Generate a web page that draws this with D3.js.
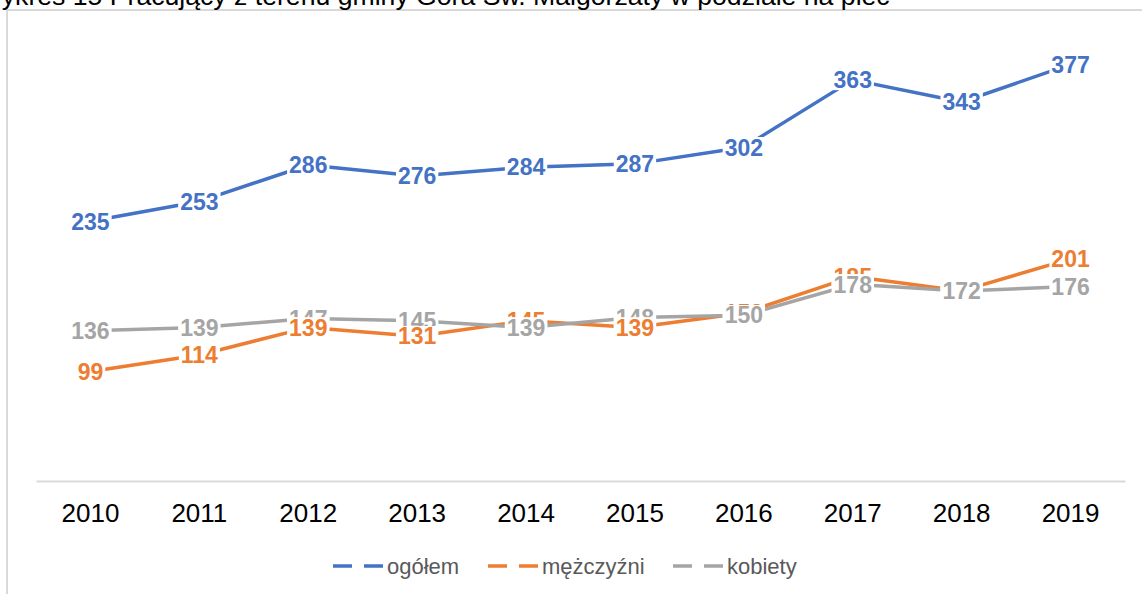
<!DOCTYPE html>
<html>
<head>
<meta charset="utf-8">
<script src="https://cdn.jsdelivr.net/npm/d3@7"></script>
<style>
  body { margin: 0; background: #fff; }
  text { font-family: "Liberation Sans", Arial, sans-serif; }
</style>
</head>
<body>
<div id="chart"></div>
<script>
// data
var years = ["2010", "2011", "2012", "2013", "2014", "2015", "2016", "2017", "2018", "2019"];
var ogolem = [235, 253, 286, 276, 284, 287, 302, 363, 343, 377];
var mezczyzni = [99, 114, 139, 131, 145, 139, 152, 185, 172, 201];
var kobiety = [136, 139, 147, 145, 139, 148, 150, 178, 172, 176];
var seriesNames = ["ogółem", "mężczyźni", "kobiety"];
var titleText = "Wykres 15 Pracujący z terenu gminy Góra Św. Małgorzaty w podziale na płeć";

var colors = ["#4472C4", "#ED7D31", "#A5A5A5"];
var series = [ogolem, mezczyzni, kobiety];

var svgWidth = 1142;
var svgHeight = 594;

var svg = d3.select("#chart")
    .append("svg")
    .attr("width", svgWidth)
    .attr("height", svgHeight);

// frame of the chart area (only top and left are visible)
svg.append("line")
    .attr("x1", 7).attr("x2", svgWidth).attr("y1", 10).attr("y2", 10)
    .attr("stroke", "#d9d9d9").attr("stroke-width", 2);
svg.append("line")
    .attr("x1", 7).attr("x2", 7).attr("y1", 10).attr("y2", svgHeight)
    .attr("stroke", "#d9d9d9").attr("stroke-width", 2);

// title, cut off at the top; sized so "ykres ... płeć" spans x 2..890
function textWidth(str, size) {
    var t = svg.append("text").attr("font-size", size).text(str);
    var w = t.node().getComputedTextLength();
    t.remove();
    return w;
}
var titleSize = 22 * 888 / (textWidth(titleText, 22) - textWidth("W", 22));
svg.append("text")
    .attr("x", 2 - textWidth("W", titleSize))
    .attr("y", 5)
    .attr("font-size", titleSize)
    .attr("fill", "#000")
    .text(titleText);

// scales
var xScale = d3.scaleBand()
    .domain(years)
    .range([36, 1125]);

var yScale = d3.scaleLinear()
    .domain([0, 400])
    .range([481, 39]);

var xPos = function(d, i) { return xScale(years[i]) + xScale.bandwidth() / 2; };

// x axis
var bottomAxis = d3.axisBottom(xScale).tickSize(0).tickPadding(0);
var axisG = svg.append("g")
    .attr("transform", "translate(0, 481)")
    .call(bottomAxis);
axisG.select(".domain").attr("stroke", "#d9d9d9").attr("stroke-width", 2);
axisG.selectAll(".tick text")
    .attr("font-size", 26)
    .attr("font-family", "Liberation Sans, Arial, sans-serif")
    .attr("fill", "#000")
    .attr("dy", null)
    .attr("y", 41);

// lines
var line = d3.line()
    .x(xPos)
    .y(function(d) { return yScale(d); });

series.forEach(function(s, k) {
    svg.append("path")
        .datum(s)
        .attr("d", line)
        .attr("fill", "none")
        .attr("stroke", colors[k])
        .attr("stroke-width", 3.5)
        .attr("stroke-linejoin", "round");
});

// data labels with white boxes, lower labels drawn on top
var labels = [];
series.forEach(function(s, k) {
    s.forEach(function(v, i) {
        labels.push({ v: v, i: i, k: k, x: xPos(v, i), y: yScale(v) });
    });
});
labels.sort(function(a, b) { return (a.y - b.y) || (a.k - b.k); });

var fs = 23;
var labelG = svg.append("g");
labels.forEach(function(d) {
    var g = labelG.append("g");
    var rect = g.append("rect").attr("fill", "#fff");
    var t = g.append("text")
        .attr("x", d.x)
        .attr("y", d.y + fs * 0.358)
        .attr("text-anchor", "middle")
        .attr("font-size", fs)
        .attr("font-weight", "bold")
        .attr("fill", colors[d.k])
        .text(d.v);
    var w = t.node().getComputedTextLength();
    var h = fs * 0.716;
    rect.attr("x", d.x - w / 2 - 2)
        .attr("y", d.y - h / 2 - 2)
        .attr("width", w + 4)
        .attr("height", h + 4);
});

// legend
var legendX = [333, 488, 673];
var legend = svg.append("g");
seriesNames.forEach(function(name, k) {
    var x0 = legendX[k];
    [[0, 19], [31, 50]].forEach(function(seg) {
        legend.append("line")
            .attr("x1", x0 + seg[0]).attr("x2", x0 + seg[1])
            .attr("y1", 566).attr("y2", 566)
            .attr("stroke", colors[k])
            .attr("stroke-width", 3.5);
    });
    legend.append("text")
        .attr("x", x0 + 54)
        .attr("y", 574)
        .attr("font-size", 22)
        .attr("fill", "#595959")
        .text(name);
});
</script>
</body>
</html>
